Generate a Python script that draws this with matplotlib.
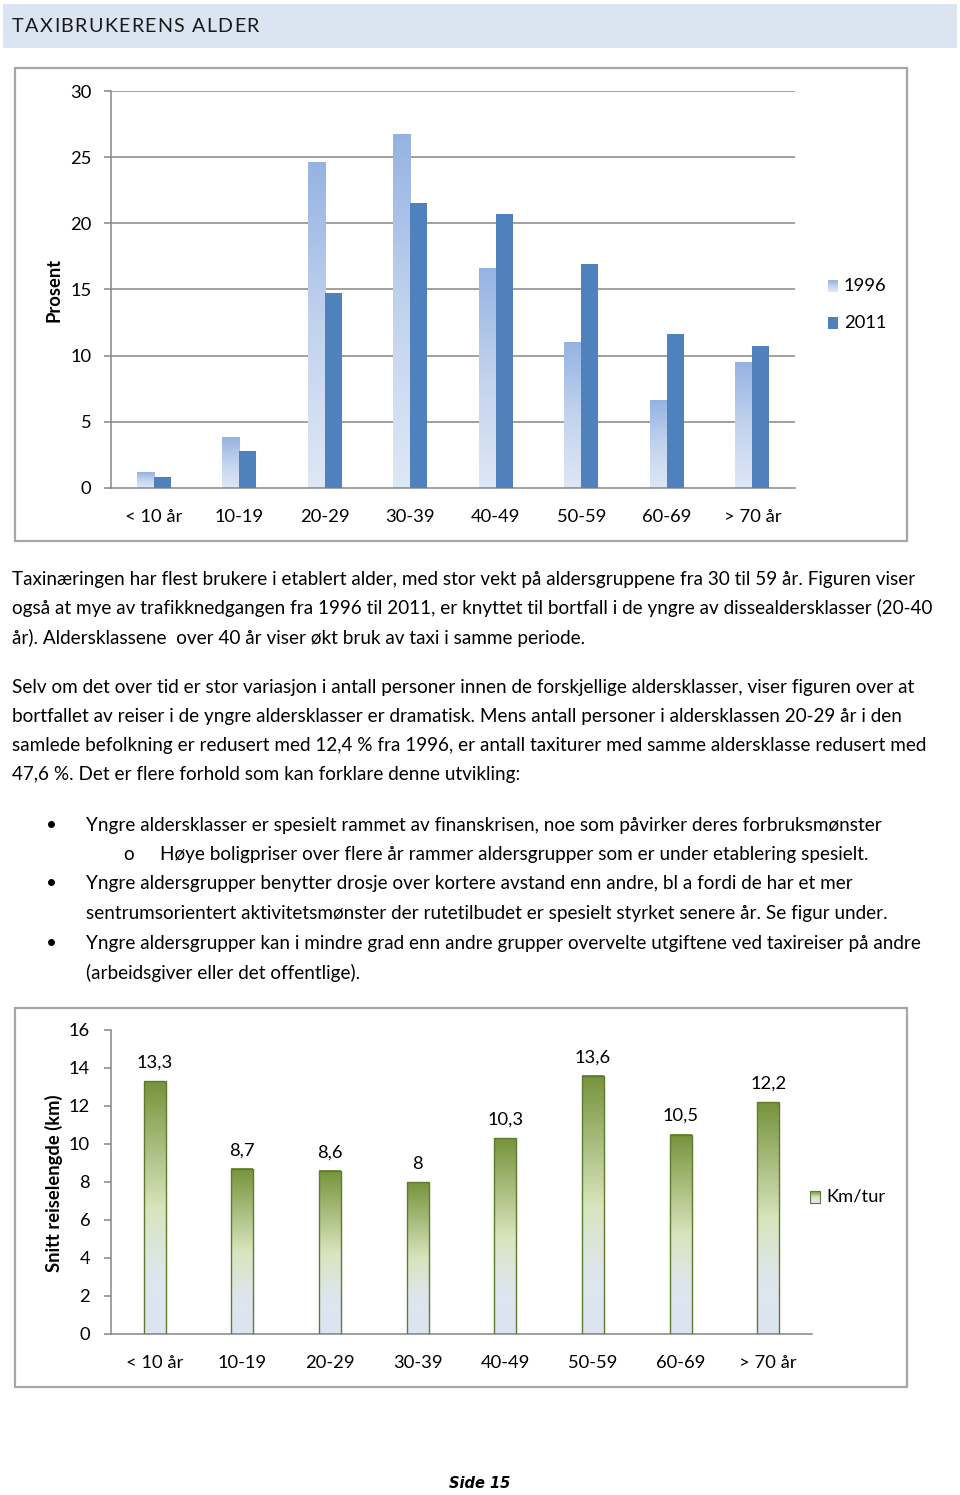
import numpy as np
import matplotlib
matplotlib.use('Agg')
import matplotlib.pyplot as plt
from matplotlib.colors import LinearSegmentedColormap
from matplotlib.patches import Rectangle

plt.rcParams['font.family'] = ['Lato', 'DejaVu Sans']

W, H = 960, 1495

# data
alder = ['< 10 år', '10-19', '20-29', '30-39', '40-49', '50-59', '60-69', '> 70 år']
andel_1996 = [1.2, 3.8, 24.6, 26.7, 16.6, 11.0, 6.6, 9.5]
andel_2011 = [0.8, 2.8, 14.7, 21.5, 20.7, 16.9, 11.6, 10.7]
km_per_tur = [13.3, 8.7, 8.6, 8.0, 10.3, 13.6, 10.5, 12.2]
km_etiketter = ['13,3', '8,7', '8,6', '8', '10,3', '13,6', '10,5', '12,2']
y_ticks1 = [0, 5, 10, 15, 20, 25, 30]
y_ticks2 = [0, 2, 4, 6, 8, 10, 12, 14, 16]

tittel = 'TAXIBRUKERENS ALDER'
avsnitt1 = [
    'Taxinæringen har flest brukere i etablert alder, med stor vekt på aldersgruppene fra 30 til 59 år. Figuren viser',
    'også at mye av trafikknedgangen fra 1996 til 2011, er knyttet til bortfall i de yngre av dissealdersklasser (20-40',
    'år). Aldersklassene  over 40 år viser økt bruk av taxi i samme periode.',
]
avsnitt2 = [
    'Selv om det over tid er stor variasjon i antall personer innen de forskjellige aldersklasser, viser figuren over at',
    'bortfallet av reiser i de yngre aldersklasser er dramatisk. Mens antall personer i aldersklassen 20-29 år i den',
    'samlede befolkning er redusert med 12,4 % fra 1996, er antall taxiturer med samme aldersklasse redusert med',
    '47,6 %. Det er flere forhold som kan forklare denne utvikling:',
]
# (marker, text) ; marker '' = continuation line, 'o' = sub bullet
punkter = [
    ('•', 'Yngre aldersklasser er spesielt rammet av finanskrisen, noe som påvirker deres forbruksmønster'),
    ('o', 'Høye boligpriser over flere år rammer aldersgrupper som er under etablering spesielt.'),
    ('•', 'Yngre aldersgrupper benytter drosje over kortere avstand enn andre, bl a fordi de har et mer'),
    ('', 'sentrumsorientert aktivitetsmønster der rutetilbudet er spesielt styrket senere år. Se figur under.'),
    ('•', 'Yngre aldersgrupper kan i mindre grad enn andre grupper overvelte utgiftene ved taxireiser på andre'),
    ('', '(arbeidsgiver eller det offentlige).'),
]

GRID = '#868686'
BOX = '#A6A6A6'
FS = 13.2      # chart text
FS_BODY = 13.6  # running text

blue_grad = LinearSegmentedColormap.from_list('b96', ['#95B3E2', '#C3D3EE', '#DEE7F5'])
green_grad = LinearSegmentedColormap.from_list('km', [(0, '#76933C'), (0.5, '#D8E4BC'),
                                                       (0.75, '#DEE6EC'), (1, '#DCE4F2')])


def px_axes(fig, x0, y0, x1, y1):
    return fig.add_axes([x0 / W, 1 - y1 / H, (x1 - x0) / W, (y1 - y0) / H])


def gradient_fill(ax, bars, cmap):
    grad = np.linspace(0, 1, 256).reshape(-1, 1)
    for b in bars:
        x0, w, h = b.get_x(), b.get_width(), b.get_height()
        ax.imshow(grad, extent=[x0, x0 + w, 0, h], origin='upper', aspect='auto',
                  cmap=cmap, zorder=2, interpolation='bilinear')
        b.set_facecolor('none')


fig = plt.figure(figsize=(W / 100, H / 100), dpi=100)
renderer = fig.canvas.get_renderer()

# page background, boxes and free text drawn in pixel coords
bg = fig.add_axes([0, 0, 1, 1], zorder=0)
bg.set_xlim(0, W)
bg.set_ylim(H, 0)
bg.axis('off')

bg.add_patch(Rectangle((3, 4), 954, 44, facecolor='#DBE5F1', edgecolor='none'))

# letter-spaced heading
xc = 12
for ch in tittel:
    if ch == ' ':
        xc += 6
        continue
    t = bg.text(xc, 26, ch, fontsize=14.2, va='center', ha='left', color='#1a1a1a')
    xc += t.get_window_extent(renderer).width + 1.3

bg.add_patch(Rectangle((15, 68), 892, 473, facecolor='white', edgecolor=BOX, lw=1.6))
bg.add_patch(Rectangle((15, 1008), 892, 379, facecolor='white', edgecolor=BOX, lw=1.6))

bg.text(54, 290, 'Prosent', rotation=90, fontsize=FS, fontweight='bold', ha='center', va='center')
bg.text(54, 1183, 'Snitt reiselengde (km)', rotation=90, fontsize=FS, fontweight='bold',
        ha='center', va='center')

for i, line in enumerate(avsnitt1):
    bg.text(12, 579 + i * 29.3, line, fontsize=FS_BODY, va='center', ha='left')
for i, line in enumerate(avsnitt2):
    bg.text(12, 687 + i * 29.3, line, fontsize=FS_BODY, va='center', ha='left')
for i, (mark, line) in enumerate(punkter):
    y = 825 + i * 29.5
    if mark == '•':
        bg.text(52, y, mark, fontsize=FS_BODY, va='center', ha='center')
        bg.text(86, y, line, fontsize=FS_BODY, va='center', ha='left')
    elif mark == 'o':
        bg.text(129, y, mark, fontsize=FS_BODY, va='center', ha='center')
        bg.text(160, y, line, fontsize=FS_BODY, va='center', ha='left')
    else:
        bg.text(86, y, line, fontsize=FS_BODY, va='center', ha='left')

bg.text(480, 1484, 'Side 15', fontsize=10.5, fontstyle='italic', fontweight='bold',
        family='DejaVu Sans', ha='center', va='center')

# legend chart 1
grad = np.linspace(0, 1, 64).reshape(-1, 1)
bg.imshow(grad, extent=[828, 838, 292, 280], cmap=blue_grad, aspect='auto', zorder=3)
bg.add_patch(Rectangle((828, 317), 10, 12, facecolor='#4F81BD', edgecolor='none', zorder=3))
bg.text(844, 286, '1996', fontsize=FS, va='center', ha='left', zorder=4)
bg.text(844, 323, '2011', fontsize=FS, va='center', ha='left', zorder=4)

# legend chart 2
bg.imshow(grad, extent=[810, 820, 1203, 1191], cmap=green_grad, aspect='auto', zorder=3)
bg.add_patch(Rectangle((810, 1191), 10, 12, facecolor='none', edgecolor='#5E7A2E', lw=0.8, zorder=4))
bg.text(826, 1197, 'Km/tur', fontsize=FS, va='center', ha='left', zorder=4)
bg.set_xlim(0, W)
bg.set_ylim(H, 0)

# chart 1: share of taxi users by age
ax1 = px_axes(fig, 111, 91, 795, 488)
ax1.set_zorder(2)
ax1.patch.set_alpha(0)
x = np.arange(len(alder))
b96 = ax1.bar(x - 0.1, andel_1996, width=0.2, color='#B0C6EA', zorder=2, lw=0)
b11 = ax1.bar(x + 0.1, andel_2011, width=0.2, color='#4F81BD', zorder=3, lw=0)
gradient_fill(ax1, b96, blue_grad)
ax1.set_xlim(-0.5, len(alder) - 0.5)
ax1.set_ylim(0, 30)
ax1.set_yticks(y_ticks1)
ax1.set_yticklabels([str(t) for t in y_ticks1])
ax1.set_xticks(x)
ax1.set_xticklabels(alder)
for t in y_ticks1[1:]:
    ax1.axhline(t, color=GRID, lw=1.1, zorder=1)
for s in ['top', 'right']:
    ax1.spines[s].set_visible(False)
for s in ['left', 'bottom']:
    ax1.spines[s].set_color(GRID)
    ax1.spines[s].set_linewidth(1.1)
ax1.tick_params(axis='y', length=5, color=GRID, width=1.1, pad=9, labelsize=FS)
ax1.tick_params(axis='x', length=0, pad=15, labelsize=FS)

# chart 2: average trip length
ax2 = px_axes(fig, 111, 1030, 812, 1334)
ax2.set_zorder(2)
ax2.patch.set_alpha(0)
bkm = ax2.bar(x, km_per_tur, width=0.25, edgecolor='#5E7A2E', lw=1.0, zorder=3)
gradient_fill(ax2, bkm, green_grad)
for b, lab in zip(bkm, km_etiketter):
    ax2.annotate(lab, (b.get_x() + b.get_width() / 2, b.get_height()), xytext=(0, 7.5),
                 textcoords='offset points', ha='center', va='bottom', fontsize=FS)
ax2.set_xlim(-0.5, len(alder) - 0.5)
ax2.set_ylim(0, 16)
ax2.set_yticks(y_ticks2)
ax2.set_yticklabels([str(t) for t in y_ticks2])
ax2.set_xticks(x)
ax2.set_xticklabels(alder)
for s in ['top', 'right']:
    ax2.spines[s].set_visible(False)
for s in ['left', 'bottom']:
    ax2.spines[s].set_color(GRID)
    ax2.spines[s].set_linewidth(1.1)
ax2.tick_params(axis='y', length=5, color=GRID, width=1.1, pad=10, labelsize=FS)
ax2.tick_params(axis='x', length=0, pad=15, labelsize=FS)

fig.savefig('out.png', dpi=100, facecolor='white')
